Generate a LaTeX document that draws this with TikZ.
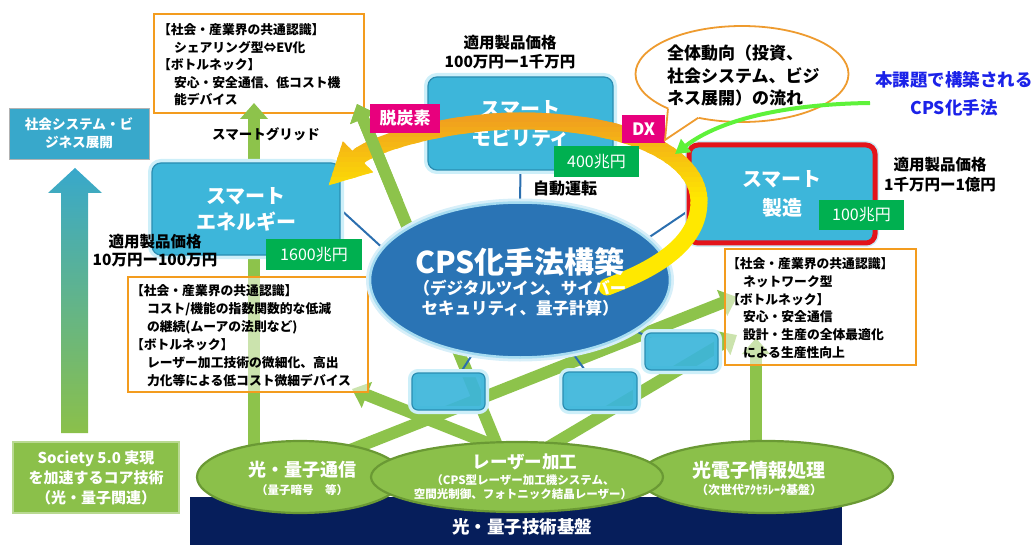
\documentclass[tikz,border=0pt]{standalone}
\usepackage{fontspec}
\setmainfont{Noto Sans CJK JP}
\usetikzlibrary{shapes.geometric,arrows.meta,calc}
\pgfdeclarelayer{lzero}
\pgfdeclarelayer{lone}
\pgfdeclarelayer{ltwo}
\pgfsetlayers{lzero,lone,ltwo,main}
\definecolor{navyC}{HTML}{061E5B}
\definecolor{gF}{HTML}{8BC04A}
\definecolor{gD}{HTML}{6A9934}
\definecolor{garC}{HTML}{8DC34B}
\definecolor{blueF}{HTML}{3DB6DA}
\definecolor{blueD}{HTML}{2A8DB2}
\definecolor{glowC}{HTML}{CDEFF9}
\definecolor{cpsF}{HTML}{2A74B5}
\definecolor{cpsG}{HTML}{A6DCF1}
\definecolor{connC}{HTML}{2B6FAF}
\definecolor{orgB}{HTML}{F39C1E}
\definecolor{valG}{HTML}{00B050}
\definecolor{magC}{HTML}{E8007D}
\definecolor{tealC}{HTML}{38A8CB}
\definecolor{redB}{HTML}{E3141B}
\definecolor{bandO}{HTML}{F0A01E}
\definecolor{bandY}{HTML}{FFE800}
\definecolor{bubO}{HTML}{EE9B2F}
\definecolor{noteB}{HTML}{1B22E8}
\definecolor{ptrG}{HTML}{5EF23A}
\newcommand{\myfs}[2]{\fontsize{#1}{#2}\selectfont}
\begin{document}
\begin{tikzpicture}[x=1pt,y=-1pt,
  every node/.style={inner sep=0pt,outer sep=0pt},
  bluebox/.style={rectangle,rounded corners=9pt,fill=blueF,draw=blueD,line width=1.2pt,preaction={draw=glowC,line width=8pt}},
  garrow/.style={draw=garC,line width=12pt,-{Triangle[length=16pt,width=27pt]}},
  obox/.style={rectangle,draw=orgB,line width=2.2pt,fill=white},
  vbox/.style={rectangle,fill=valG,text=white,font=\myfs{16}{18}},
  mbox/.style={rectangle,fill=magC,text=white,font=\bfseries\myfs{17}{19}},
  gell/.style={ellipse,fill=gF,draw=gD,line width=2.2pt},
  conn/.style={draw=connC,line width=2pt},
  otxt/.style={anchor=base west,font=\bfseries\myfs{12.8}{15}}
]
\useasboundingbox (0,0) rectangle (1035,545);

% ---------- bottom layer ----------
\begin{pgfonlayer}{lzero}
\node[fill=navyC,minimum width=652pt,minimum height=48pt,anchor=north west] (base) at (190,497) {};
\node[obox,minimum width=210pt,minimum height=99pt] (tlbox) at (259,63.5) {};
\end{pgfonlayer}

% ---------- green ellipses ----------
\begin{pgfonlayer}{ltwo}
\node[gell,minimum width=206pt,minimum height=72pt] (qcomm) at (300,477) {};
\node[gell,minimum width=254pt,minimum height=72pt] (opto) at (766,477) {};
\node[gell,minimum width=292pt,minimum height=70pt] (laser) at (517,477) {};
\end{pgfonlayer}

% ---------- green arrows ----------
\coordinate (g1t) at (254,103);
\coordinate (g2s) at ($(laser.center)+(-16,-22)$);
\coordinate (g2t) at (357,104);
\coordinate (g3s) at ($(laser.center)+(-12,-27)$);
\coordinate (g3t) at (352,389);
\coordinate (g4s) at ($(qcomm.center)+(30,-19)$);
\coordinate (g4t) at (737,297);
\coordinate (g5s) at ($(laser.center)+(18,-22)$);
\coordinate (g5t) at (737,335);
\coordinate (g6s) at ($(opto.center)+(-10,-22)$);
\coordinate (g6t) at (756,338);
\begin{pgfonlayer}{lone}
\draw[garrow] (qcomm.center -| g1t) -- (g1t);
\draw[garrow] (g2s) -- (g2t);
\draw[garrow] (g3s) -- (g3t);
\draw[garrow] (g4s) -- (g4t);
\draw[garrow] (g5s) -- (g5t);
\draw[garrow] (g6s) -- (g6t);
\end{pgfonlayer}

% ---------- translucent orange boxes ----------
\node[obox,fill opacity=0.55,minimum width=240pt,minimum height=115pt] (blbox) at (248,334.5) {};
\node[obox,fill opacity=0.55,minimum width=191pt,minimum height=116pt] (rbox) at (820.5,307) {};

% ---------- left column ----------
\node[rectangle,fill=tealC,draw=gray!60,line width=0.8pt,minimum width=140pt,minimum height=51pt,
  text=white,align=center,font=\bfseries\myfs{13.6}{18}] (soc) at (79,133.5) {社会システム・ビ\\ジネス展開};
\shade[top color=tealC,bottom color=gF] (75,168) -- (102,193) -- (88,193) -- (88,433) -- (61,433) -- (61,193) -- (48,193) -- cycle;
\node[rectangle,fill=gF,draw=gF!60!white,line width=1.5pt,minimum width=166pt,minimum height=71pt,
  text=white,align=center,font=\bfseries\myfs{15}{20}] (core) at (96,477.5) {Society 5.0 実現\\を加速するコア技術\\（光・量子関連）};

% ---------- blue boxes ----------
\node[bluebox,minimum width=185pt,minimum height=93pt,text=white,align=center,font=\bfseries\myfs{20}{29}] (mob) at (520.5,123.5) {スマート\\モビリティ};
\node[bluebox,minimum width=188pt,minimum height=92pt,text=white,align=center,font=\bfseries\myfs{20}{26}] (ene) at (246,209) {スマート\\エネルギー};
\node[bluebox,draw=redB,line width=5pt,minimum width=186pt,minimum height=98pt,text=white,align=center,font=\bfseries\myfs{20}{29}] (man) at (782,194) {スマート\\製造};
\node[bluebox,fill opacity=0.93,minimum width=73pt,minimum height=37pt,rounded corners=6pt] (boxA) at (448.5,391.5) {};
\node[bluebox,fill opacity=0.93,minimum width=74pt,minimum height=38pt,rounded corners=6pt] (boxB) at (600,391) {};
\node[bluebox,fill opacity=0.93,minimum width=73pt,minimum height=37pt,rounded corners=6pt] (boxC) at (681.5,351.5) {};

% ---------- CPS ellipse ----------
\node[ellipse,fill=cpsF,draw=cpsG,line width=2.5pt,preaction={draw=cpsG!45,line width=8pt},
  minimum width=300pt,minimum height=155pt] (cps) at (520,280) {};

% ---------- thin connectors (under boxes) ----------
\begin{pgfonlayer}{ltwo}
\draw[conn] (mob.south) -- (cps.north);
\draw[conn] (ene.east) -- (cps.167);
\draw[conn] (man.190) -- (cps.18);
\draw[conn] (boxA) -- (cps);
\draw[conn] (boxB) -- (cps);
\draw[conn] (boxC) -- (cps);
\end{pgfonlayer}

% ---------- big curved arrow ----------
\coordinate (bandS) at (607,287);
\coordinate (bandT) at (328,186);
\foreach \i in {0,...,20}{
  \pgfmathsetmacro{\yt}{\i==0 ? 80 : 103+5*\i}
  \pgfmathsetmacro{\yb}{\i==20 ? 320 : 108.6+5*\i}
  \pgfmathsetmacro{\pc}{max(0,min(100,(\i-3)*6.25))}
  \begin{scope}
    \clip (0,\yt) rectangle (1035,\yb);
    \draw[line width=17pt,line cap=round,draw=bandY!\pc!bandO,-{Triangle[length=42pt,width=40pt]}]
      (bandS) .. controls (652,270) and (700,245) .. (699,200)
      .. controls (697,152) and (620,121) .. (520,121)
      .. controls (450,121) and (372,143) .. (bandT);
  \end{scope}
}
\draw[garrow] ($(g2s)!0.72!(g2t)$) -- (g2t);

% ---------- labels on the arrow ----------
\node[mbox,minimum width=70pt,minimum height=29pt] (dtan) at (405,118.5) {脱炭素};
\node[mbox,minimum width=43pt,minimum height=28pt] (dx) at (643.5,129) {DX};
\node[vbox,minimum width=85pt,minimum height=31pt] (v400) at (596.5,161.5) {400兆円};
\node[vbox,minimum width=96pt,minimum height=31pt] (v1600) at (314,254.5) {1600兆円};
\node[vbox,minimum width=85pt,minimum height=30pt] (v100) at (861.5,215) {100兆円};

% ---------- speech bubble ----------
\node[ellipse,draw=bubO,line width=1.8pt,fill=white,minimum width=213pt,minimum height=96pt] (bub) at (742,74) {};
\coordinate (tailtip) at (665,140);
\fill[white] (bub.205) -- (tailtip) -- (bub.225) -- (bub.center) -- cycle;
\draw[draw=bubO,line width=1.8pt] (bub.205) -- (tailtip) -- (bub.225);
\node[anchor=west,align=left,font=\bfseries\myfs{17}{22.5}] (bubt) at (667,76) {全体動向（投資、\\社会システム、ビジ\\ネス展開）の流れ};

% ---------- note and pointer ----------
\node[align=center,text=noteB,font=\bfseries\myfs{17.5}{28}] (note) at (954,94) {本課題で構築される\\CPS化手法};
\coordinate (ptrS) at (870,103);
\coordinate (ptrT) at (675,154);
\draw[draw=ptrG,line width=4pt,-{Triangle[length=14pt,width=16pt]}] (ptrS) .. controls (790,104) and (722,118) .. (ptrT);

% ---------- texts ----------
\node[align=center,font=\bfseries\myfs{15.5}{19}] (pmob) at (510,52.5) {適用製品価格\\100万円ー1千万円};
\node[align=center,font=\bfseries\myfs{15.5}{20}] (pman) at (940,175) {適用製品価格\\1千万円ー1億円};
\node[align=center,font=\bfseries\myfs{15.5}{18}] (pene) at (155,251) {適用製品価格\\10万円ー100万円};
\node[font=\bfseries\myfs{16}{18}] (jidou) at (565,188) {自動運転};
\node[font=\bfseries\myfs{13.5}{16}] (grid) at (266,134) {スマートグリッド};

\node[text=white,font=\bfseries\myfs{30}{34}] (cpst) at (520,262) {CPS化手法構築};
\node[text=white,align=center,font=\bfseries\myfs{16.5}{20}] (cpss) at (520,298) {（デジタルツイン、サイバー\\セキュリティ、量子計算）};

\node[text=white,font=\bfseries\myfs{18}{20}] (qct) at (302,470) {光・量子通信};
\node[text=white,font=\bfseries\myfs{11.5}{13}] (qcs) at (302,490) {（量子暗号　等）};
\node[text=white,font=\bfseries\myfs{17.5}{20}] (lat) at (525,462) {レーザー加工};
\node[text=white,align=center,font=\bfseries\myfs{11.5}{13.5}] (las) at (523,487) {（CPS型レーザー加工機システム、\\空間光制御、フォトニック結晶レーザー）};
\node[text=white,font=\bfseries\myfs{19}{21}] (opt) at (759,470) {光電子情報処理};
\node[text=white,font=\bfseries\myfs{12}{14}] (ops) at (759,490) {（次世代ｱｸｾﾗﾚｰﾀ基盤）};
\node[text=white,font=\bfseries\myfs{17.5}{20}] (baset) at (522,527) {光・量子技術基盤};

% orange box texts
\foreach \t [count=\k] in {{【社会・産業界の共通認識】},{\hspace*{16pt}シェアリング型⇔EV化},{【ボトルネック】},{\hspace*{16pt}安心・安全通信、低コスト機},{\hspace*{16pt}能デバイス}}
  \node[otxt] (tl\k) at (158,{35+17.5*(\k-1)}) {\t};
\foreach \t [count=\k] in {{【社会・産業界の共通認識】},{\hspace*{16pt}コスト/機能の指数関数的な低減},{\hspace*{16pt}の継続(ムーアの法則など)},{【ボトルネック】},{\hspace*{16pt}レーザー加工技術の微細化、高出},{\hspace*{16pt}力化等による低コスト微細デバイス}}
  \node[otxt] (bl\k) at (131,{295+18*(\k-1)}) {\t};
\foreach \t [count=\k] in {{【社会・産業界の共通認識】},{\hspace*{16pt}ネットワーク型},{【ボトルネック】},{\hspace*{16pt}安心・安全通信},{\hspace*{16pt}設計・生産の全体最適化},{\hspace*{16pt}による生産性向上}}
  \node[otxt] (rb\k) at (727,{269+17.6*(\k-1)}) {\t};
\end{tikzpicture}
\end{document}
